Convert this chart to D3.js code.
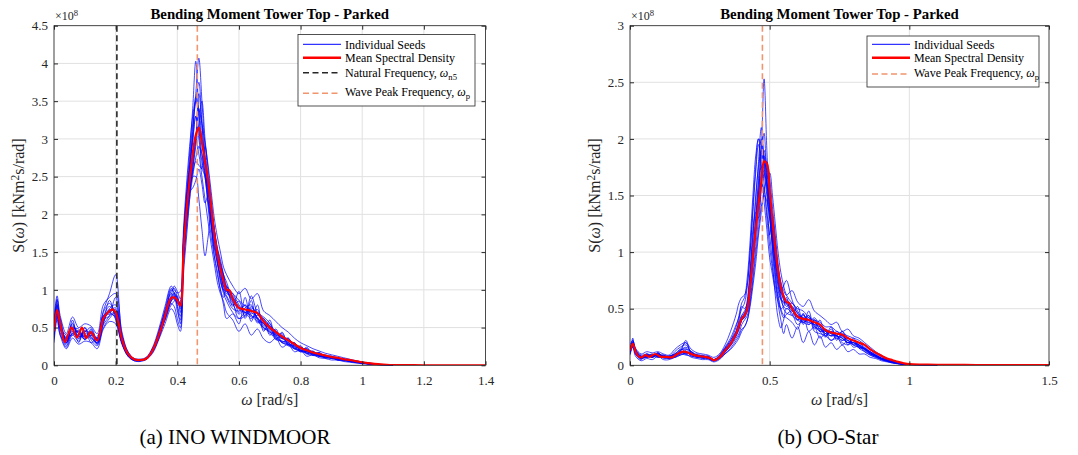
<!DOCTYPE html>
<html><head><meta charset="utf-8">
<script src="https://cdn.jsdelivr.net/npm/d3@7"></script>
<style>
html,body{margin:0;padding:0;background:#fff;}
svg{display:block;font-family:'Liberation Serif','Times New Roman',Times,serif;}
</style></head><body>
<svg id="fig" width="1078" height="455" font-family="Liberation Serif, Times New Roman, Times, serif"></svg>
<script>
// ---------- (a) INO WINDMOOR ----------
// frequency grid of the individual seed spectra [rad/s]
const seedOmegaA = [0,.01,.02,.04,.06,.08,.10,.12,.14,.16,.18,.20,
  .22,.24,.26,.28,.30,.32,.34,.36,.38,.39,.40,.41,
  .42,.43,.44,.45,.46,.47,.48,.49,.50,.51,.52,.53,.54,.55,.56,
  .58,.60,.62,.64,.66,.68,.70,.72,.74,.76,.78,.80,.82,.84,.86,.88,.90,.92,.94,.96,.98,1.00,1.02,1.04,1.06,1.08,1.10];
// individual seed spectra, S(omega) in 1e8 kNm^2 s/rad
const seedsA = [
  [.38,.86,.60,.28,.55,.35,.45,.38,.30,.70,.82,.65, .30,.12,.06,.06,.10,.18,.45,.72,.98,1.02,.90,.75,
   1.6,2.2,2.6,3.1,3.6,4.07,3.5,2.8,2.2,1.85,1.6,1.35,1.2,1.05,.95,
   .92,.70,.80,.68,.74,.52,.55,.40,.42,.30,.30,.20,.22,.15,.17,.12,.12,.09,.09,.06,.06,.04,.03,.02,.01,.006,.004],
  [.52,.70,.48,.36,.42,.45,.34,.48,.28,.55,.75,.80, .40,.18,.09,.08,.08,.22,.38,.60,.80,.85,.92,.70,
   1.7,2.3,2.8,3.4,4.03,3.3,2.6,2.9,2.4,1.9,1.55,1.5,1.3,1.0,.92,
   .80,.85,.65,.78,.62,.55,.50,.45,.35,.36,.25,.22,.18,.19,.13,.12,.11,.08,.08,.06,.05,.035,.025,.015,.008,.005,.003],
  [.40,.68,.62,.30,.50,.44,.38,.40,.36,.60,.65,.72, .38,.16,.07,.06,.10,.20,.42,.68,.95,.92,.80,.65,
   1.4,1.9,2.3,2.6,3.0,3.6,3.2,2.7,2.45,2.1,1.8,1.5,1.3,1.2,1.05,
   .95,.80,.70,.62,.70,.60,.52,.46,.36,.34,.28,.24,.20,.16,.16,.12,.10,.10,.07,.07,.05,.04,.03,.018,.01,.006,.003],
  [.48,.80,.50,.38,.45,.36,.46,.42,.35,.65,.70,.62, .32,.14,.08,.07,.08,.18,.36,.62,.85,.88,.82,.85,
   1.6,2.1,2.35,2.5,2.5,2.2,1.8,1.45,1.7,2.0,1.75,1.4,1.1,.98,.90,
   .75,.72,.80,.66,.62,.55,.46,.40,.38,.28,.26,.24,.16,.16,.14,.10,.10,.08,.07,.05,.05,.03,.02,.012,.007,.004,.003],
  [.42,.74,.56,.34,.52,.42,.35,.46,.32,.58,.72,.76, .36,.15,.08,.07,.09,.20,.40,.66,.88,.92,.85,.80,
   1.4,1.9,2.3,2.6,2.9,3.2,3.5,3.0,2.6,2.2,1.8,1.5,1.3,1.15,1.02,
   .90,.78,.70,.76,.68,.58,.48,.42,.36,.30,.24,.18,.18,.15,.12,.12,.09,.09,.07,.05,.045,.03,.02,.012,.007,.004,.002],
  [.50,.66,.50,.26,.44,.38,.42,.38,.28,.50,.62,.70, .35,.13,.07,.07,.08,.20,.42,.60,.82,.78,.62,.50,
   1.3,1.8,2.2,2.5,2.75,2.9,2.8,2.55,2.35,2.1,1.8,1.55,1.4,1.2,1.0,
   .82,.68,.76,.80,.60,.50,.45,.34,.32,.30,.22,.20,.16,.14,.12,.10,.10,.07,.07,.05,.04,.03,.02,.012,.006,.004,.002],
  [.55,.88,.58,.32,.48,.48,.36,.44,.36,.72,.95,1.2, .42,.16,.08,.06,.10,.22,.44,.70,.92,1.05,.98,.88,
   1.7,2.2,2.6,2.95,3.3,3.1,2.8,2.5,2.15,1.85,1.55,1.35,1.15,.95,.85,
   .70,.62,.70,.74,.62,.48,.48,.36,.32,.28,.22,.18,.18,.16,.14,.12,.11,.09,.08,.06,.05,.03,.02,.012,.008,.005,.003],
  [.36,.64,.52,.30,.42,.40,.44,.50,.34,.62,.68,.64, .30,.13,.07,.07,.09,.18,.36,.64,.90,.95,.88,.82,
   1.5,2.0,2.4,2.7,3.0,3.4,3.0,2.75,2.45,2.05,1.7,1.4,1.15,1.0,.98,
   .95,.86,.78,.64,.66,.62,.52,.42,.40,.32,.28,.24,.20,.18,.15,.13,.12,.10,.08,.06,.05,.04,.03,.02,.01,.006,.003],
  [.46,.62,.50,.36,.56,.38,.40,.36,.30,.60,.74,.68, .36,.15,.08,.07,.09,.20,.40,.64,.85,.90,.84,.78,
   1.45,1.95,2.3,2.55,2.7,2.65,2.6,2.5,2.3,2.05,1.8,1.55,1.35,1.15,1.0,
   .85,.74,.70,.66,.58,.56,.42,.38,.30,.26,.22,.20,.15,.13,.12,.10,.09,.07,.06,.05,.035,.025,.018,.01,.006,.004,.002],
  [.44,.78,.54,.34,.50,.42,.38,.42,.34,.66,.70,.74, .34,.15,.08,.07,.09,.20,.40,.64,.90,.88,.86,.82,
   1.6,2.15,2.6,3.05,3.55,3.3,2.95,2.7,2.4,2.05,1.7,1.45,1.25,1.05,.98,
   .88,.76,.74,.70,.64,.50,.44,.40,.30,.28,.24,.20,.18,.15,.13,.11,.10,.08,.07,.055,.04,.03,.02,.012,.007,.004,.002],
  [.30,.60,.40,.22,.36,.28,.32,.30,.22,.48,.58,.55, .28,.12,.06,.05,.08,.16,.34,.55,.75,.70,.55,.45,
   1.2,1.7,2.2,2.7,3.0,2.8,2.5,2.2,1.9,1.6,1.35,1.1,.95,.85,.70,
   .60,.45,.55,.40,.48,.35,.30,.36,.24,.28,.18,.20,.12,.14,.10,.09,.07,.07,.05,.04,.03,.02,.015,.01,.005,.003,.002],
  [.60,.92,.66,.42,.64,.50,.55,.52,.42,.80,.90,.95, .45,.18,.09,.08,.11,.24,.48,.78,1.05,1.0,.96,.98,
   1.8,2.4,2.9,3.3,3.5,3.4,3.2,2.95,2.65,2.3,1.95,1.7,1.5,1.3,1.2,
   1.05,.95,1.02,.88,.95,.72,.66,.58,.50,.44,.36,.30,.26,.22,.19,.16,.14,.12,.10,.08,.06,.045,.03,.02,.012,.008,.005],
  [.34,.72,.44,.24,.40,.32,.50,.34,.26,.56,.86,.60, .30,.13,.07,.06,.09,.19,.38,.62,1.0,.96,.78,.55,
   1.4,2.0,2.3,2.35,2.45,2.6,2.4,2.15,2.25,1.9,1.45,1.2,1.0,.80,.62,
   .68,.55,.90,.58,.80,.45,.60,.34,.44,.26,.30,.18,.24,.13,.17,.10,.12,.07,.08,.05,.05,.03,.02,.012,.007,.004,.002],
  [.42,.70,.40,.30,.60,.30,.50,.30,.38,.54,.66,.90, .38,.15,.07,.07,.09,.22,.42,.74,1.02,.96,.72,.60,
   1.5,2.1,2.6,3.0,3.3,3.0,2.7,2.5,2.1,1.7,1.45,1.25,1.0,.90,1.05,
   .78,.98,.62,.86,.56,.62,.40,.48,.30,.36,.22,.26,.16,.18,.12,.14,.09,.10,.06,.07,.04,.035,.02,.012,.007,.004,.002],
  [.46,.82,.52,.40,.40,.46,.34,.40,.30,.64,.78,.66, .32,.14,.08,.07,.08,.20,.40,.62,.86,.96,.90,.80,
   1.6,2.2,2.7,3.2,3.5,3.75,3.2,2.6,2.2,1.95,1.65,1.45,1.35,1.2,1.1,
   .85,.62,.66,.92,.70,.64,.56,.38,.36,.34,.26,.22,.22,.17,.14,.12,.11,.08,.08,.06,.045,.03,.02,.012,.007,.004,.002]
];
// mean spectral density
const meanOmegaA = [0,.01,.02,.035,.045,.057,.075,.091,.105,.119,.14,.16,.175,.19,.20,.21,.22,.24,.26,.28,
  .30,.32,.34,.36,.37,.38,.39,.40,.41,.42,.43,.44,.45,.46,.47,.48,.49,.50,.51,.52,.53,.54,.55,.56,.57,
  .58,.60,.62,.64,.66,.68,.70,.72,.74,.76,.78,.80,.82,.84,.86,.88,.90,.92,.94,.96,.98,1.00,1.02,1.04,1.06,
  1.08,1.10,1.15,1.20,1.30,1.40];
const meanA = [.45,.73,.55,.31,.40,.50,.37,.50,.36,.44,.33,.62,.70,.74,.70,.55,.35,.15,.08,.07,
  .09,.20,.40,.65,.80,.89,.90,.86,.79,1.5,2.05,2.45,2.8,3.05,3.15,2.95,2.7,2.45,2.1,1.75,1.48,1.28,1.12,1.0,.99,
  .88,.76,.74,.72,.69,.58,.50,.44,.38,.33,.28,.23,.20,.17,.15,.13,.11,.10,.08,.07,.055,.04,.03,.02,.012,
  .007,.004,.002,.001,.0005,.0005];
const natFreqA = 0.204;   // omega_n5
const peakFreqA = 0.465;  // omega_p
const xTicksA = [0,0.2,0.4,0.6,0.8,1,1.2,1.4];
const yTicksA = [0,0.5,1,1.5,2,2.5,3,3.5,4,4.5];

// ---------- (b) OO-Star ----------
const seedOmegaB = seedOmegaA.slice();
const seedsB = [
  [.10,.24,.10,.05,.10,.07,.11,.06,.08,.09,.13,.15, .09,.07,.08,.06,.04,.08,.15,.22,.30,.36,.42,.45,
   .52,.75,1.0,1.3,1.6,1.9,2.53,1.9,1.4,1.2,.95,.78,.62,.50,.46,
   .44,.40,.45,.36,.40,.30,.25,.32,.26,.22,.25,.18,.20,.14,.10,.08,.05,.04,.025,.015,.008,.006,.005,.004,.004,.003,.003],
  [.16,.18,.13,.08,.07,.09,.08,.09,.06,.08,.12,.10, .12,.08,.07,.08,.05,.06,.11,.18,.26,.32,.40,.42,
   .55,.80,1.1,1.45,1.8,2.1,1.8,1.55,1.35,1.1,.92,.75,.60,.55,.58,
   .52,.46,.38,.44,.34,.32,.30,.26,.30,.24,.20,.22,.16,.15,.12,.09,.06,.04,.03,.02,.01,.007,.005,.004,.003,.003,.003],
  [.12,.22,.14,.06,.09,.08,.10,.07,.08,.10,.14,.13, .08,.09,.06,.07,.04,.07,.14,.20,.30,.38,.44,.46,
   .50,.68,.92,1.2,1.5,1.85,2.05,1.6,1.15,1.3,1.1,.85,.66,.58,.52,
   .55,.48,.40,.38,.42,.34,.26,.30,.28,.26,.22,.18,.18,.15,.10,.08,.06,.05,.03,.02,.012,.008,.006,.004,.003,.003,.002],
  [.14,.16,.11,.07,.08,.10,.07,.08,.07,.12,.16,.18, .11,.08,.09,.06,.05,.09,.16,.24,.36,.42,.50,.55,
   .70,1.0,1.35,1.7,1.95,1.8,1.6,1.3,1.05,.85,.70,.60,.48,.42,.45,
   .48,.40,.44,.40,.35,.30,.32,.28,.24,.26,.20,.20,.17,.13,.10,.08,.055,.04,.025,.015,.009,.006,.005,.004,.003,.003,.002],
  [.11,.20,.10,.06,.09,.07,.10,.08,.07,.08,.10,.12, .10,.09,.07,.07,.05,.07,.12,.17,.24,.28,.36,.40,
   .44,.58,.80,1.05,1.3,1.55,1.7,1.8,1.65,1.4,1.15,.90,.72,.62,.55,
   .50,.44,.42,.38,.36,.34,.30,.28,.26,.30,.24,.22,.20,.16,.12,.09,.065,.045,.03,.02,.01,.007,.005,.004,.003,.003,.002],
  [.15,.19,.12,.08,.07,.09,.08,.07,.08,.10,.11,.14, .12,.07,.08,.08,.04,.06,.12,.18,.28,.34,.40,.44,
   .48,.66,.90,1.15,1.4,1.6,1.55,1.35,1.15,.90,.62,.42,.33,.40,.50,
   .46,.36,.40,.44,.30,.28,.26,.22,.24,.20,.18,.20,.15,.12,.09,.07,.05,.035,.02,.015,.008,.006,.004,.003,.003,.002,.002],
  [.13,.17,.12,.07,.08,.08,.09,.08,.07,.09,.12,.22, .10,.08,.07,.06,.05,.08,.14,.20,.28,.34,.42,.46,
   .58,.85,1.15,1.5,1.75,1.9,1.7,1.5,1.3,1.1,.90,.72,.64,.70,.75,
   .58,.46,.42,.40,.38,.32,.28,.30,.26,.24,.20,.22,.18,.14,.11,.085,.06,.045,.03,.018,.01,.007,.005,.004,.003,.003,.002],
  [.12,.21,.11,.06,.10,.08,.11,.07,.06,.08,.11,.12, .09,.10,.08,.06,.04,.07,.13,.19,.26,.32,.40,.42,
   .48,.66,.92,1.2,1.5,1.75,1.7,1.6,1.45,1.15,.88,.70,.58,.52,.50,
   .52,.42,.38,.36,.40,.34,.28,.26,.26,.22,.24,.18,.16,.15,.11,.08,.06,.04,.03,.018,.01,.007,.005,.004,.003,.003,.002],
  [.14,.20,.13,.08,.09,.07,.10,.08,.08,.07,.09,.11, .10,.08,.08,.07,.05,.07,.12,.18,.28,.34,.44,.48,
   .52,.72,.98,1.25,1.5,1.7,1.85,1.7,1.45,1.2,.98,.80,.66,.58,.54,
   .48,.44,.40,.42,.36,.36,.30,.26,.28,.26,.22,.20,.18,.14,.12,.09,.065,.05,.03,.02,.012,.008,.006,.004,.003,.003,.002],
  [.13,.18,.12,.07,.08,.09,.08,.08,.07,.08,.12,.10, .11,.09,.07,.08,.05,.07,.13,.19,.27,.33,.40,.44,
   .50,.70,.96,1.3,1.65,2.0,1.85,1.65,1.35,1.05,.82,.66,.58,.56,.55,
   .50,.40,.38,.40,.36,.30,.30,.28,.26,.24,.20,.20,.18,.14,.11,.085,.06,.045,.03,.018,.01,.007,.005,.004,.003,.003,.002],
  [.09,.16,.08,.04,.06,.05,.08,.05,.05,.07,.09,.10, .07,.06,.05,.05,.03,.05,.10,.15,.22,.26,.32,.34,
   .40,.55,.75,.98,1.2,1.4,1.5,1.45,1.3,1.05,.80,.55,.40,.28,.36,
   .24,.34,.20,.30,.18,.26,.16,.20,.14,.18,.12,.14,.10,.10,.07,.06,.04,.03,.02,.012,.007,.005,.004,.003,.003,.002,.002],
  [.18,.22,.15,.10,.12,.11,.12,.10,.09,.14,.18,.20, .14,.11,.10,.09,.07,.10,.18,.30,.45,.55,.60,.62,
   .72,1.0,1.4,1.75,2.0,1.95,1.8,1.6,1.4,1.2,1.0,.85,.74,.66,.62,
   .66,.56,.52,.58,.48,.44,.40,.36,.38,.30,.32,.26,.24,.20,.16,.12,.09,.06,.04,.025,.015,.01,.006,.005,.004,.003,.003],
  [.12,.20,.13,.07,.09,.07,.11,.07,.07,.10,.14,.20, .10,.09,.08,.06,.05,.07,.14,.20,.30,.40,.52,.50,
   .55,.80,1.2,1.35,1.3,1.6,1.9,1.75,1.55,1.0,.75,.62,.50,.44,.42,
   .38,.32,.46,.30,.34,.24,.28,.22,.26,.18,.22,.16,.17,.12,.09,.07,.05,.035,.025,.015,.008,.006,.005,.004,.003,.003,.002],
  [.10,.17,.10,.06,.07,.08,.07,.07,.06,.07,.10,.09, .08,.07,.06,.06,.04,.06,.10,.14,.20,.24,.30,.34,
   .40,.52,.70,.90,1.15,1.35,1.55,1.65,1.7,1.5,1.25,1.0,.82,.70,.62,
   .55,.50,.48,.42,.40,.38,.34,.34,.30,.28,.26,.24,.22,.18,.14,.10,.075,.05,.035,.02,.012,.008,.006,.004,.003,.003,.002],
  [.15,.20,.14,.09,.10,.09,.09,.09,.08,.09,.13,.16, .12,.09,.08,.07,.05,.08,.15,.22,.34,.44,.55,.60,
   .78,1.1,1.5,1.85,2.0,1.75,1.45,1.2,.95,.80,.66,.56,.50,.52,.60,
   .44,.52,.36,.48,.32,.40,.26,.34,.22,.30,.18,.24,.15,.15,.11,.08,.06,.04,.028,.018,.01,.007,.005,.004,.003,.003,.002]
];
const meanOmegaB = [0,.01,.02,.03,.04,.055,.07,.09,.11,.13,.15,.17,.19,.21,.23,.25,.27,.29,.30,.32,
  .34,.36,.38,.40,.41,.42,.43,.44,.45,.46,.47,.48,.49,.50,.51,.52,.53,.54,.55,.56,.57,.58,
  .60,.62,.64,.66,.68,.70,.72,.74,.76,.78,.80,.82,.84,.86,.88,.90,.92,.94,.96,.98,1.00,1.05,1.10,
  1.20,1.30,1.40,1.50];
const meanB = [.13,.19,.12,.08,.07,.09,.075,.10,.075,.075,.07,.10,.12,.11,.09,.08,.075,.06,.045,.07,
  .13,.19,.28,.41,.44,.50,.70,.95,1.2,1.42,1.62,1.80,1.78,1.55,1.28,1.04,.84,.69,.61,.56,.55,.50,
  .43,.41,.40,.38,.36,.31,.29,.28,.27,.24,.22,.20,.18,.14,.11,.085,.06,.045,.03,.018,.01,.006,.004,
  .003,.002,.002,.002];
const peakFreqB = 0.474;  // omega_p
const xTicksB = [0,0.5,1,1.5];
const yTicksB = [0,0.5,1,1.5,2,2.5,3];

const chartTitle = "Bending Moment Tower Top - Parked";
const captions = ["(a) INO WINDMOOR", "(b) OO-Star"];

// ---------- drawing ----------
const FONT = "'Liberation Serif','Times New Roman',Times,serif";
const svg = d3.select("#fig");
const AX = "#262626", SEED = "#0000ff", MEAN = "#ff0000", NAT = "#262626", WAVE = "#f0956e";
const TOP = 25.7, BOTTOM = 365.3;

function richText(sel, parts, size) {
  sel.attr("font-family", FONT);
  parts.forEach(p => {
    const t = sel.append("tspan").text(p.t);
    if (p.it) t.attr("font-style", "italic");
    if (p.sub) t.attr("font-size", size * 0.72).attr("baseline-shift", "-28%");
    if (p.sup) t.attr("font-size", size * 0.72).attr("baseline-shift", "40%");
  });
}

function drawPanel(p, idx) {
  const x = d3.scaleLinear().domain(p.xDomain).range([p.left, p.right]);
  const y = d3.scaleLinear().domain(p.yDomain).range([BOTTOM, TOP]);
  const g = svg.append("g");
  const clipId = "clip" + idx;
  g.append("clipPath").attr("id", clipId).append("rect")
    .attr("x", p.left).attr("y", TOP).attr("width", p.right - p.left).attr("height", BOTTOM - TOP);

  // grid
  g.append("g").selectAll("line").data(p.xTicks).join("line")
    .attr("x1", d => x(d)).attr("x2", d => x(d)).attr("y1", TOP).attr("y2", BOTTOM)
    .attr("stroke", "#e1e1e1").attr("stroke-width", 1);
  g.append("g").selectAll("line").data(p.yTicks).join("line")
    .attr("y1", d => y(d)).attr("y2", d => y(d)).attr("x1", p.left).attr("x2", p.right)
    .attr("stroke", "#e1e1e1").attr("stroke-width", 1);

  const plot = g.append("g").attr("clip-path", `url(#${clipId})`);
  const seedLine = d3.line().x((d, i) => x(p.seedOmega[i])).y(d => y(d)).curve(d3.curveCatmullRom.alpha(0.5));
  plot.append("g").selectAll("path").data(p.seeds).join("path")
    .attr("d", seedLine).attr("fill", "none").attr("stroke", SEED)
    .attr("stroke-width", 1).attr("stroke-opacity", 0.72);

  // reference frequencies
  p.vlines.forEach(v => {
    plot.append("line").attr("x1", x(v.w)).attr("x2", x(v.w)).attr("y1", TOP).attr("y2", BOTTOM)
      .attr("stroke", v.color).attr("stroke-width", 1.6).attr("stroke-dasharray", "6,3.5");
  });

  const meanLine = d3.line().x((d, i) => x(p.meanOmega[i])).y(d => y(d)).curve(d3.curveCatmullRom.alpha(0.5));
  plot.append("path").datum(p.mean).attr("d", meanLine).attr("fill", "none")
    .attr("stroke", MEAN).attr("stroke-width", 2.2).attr("stroke-linejoin", "round");

  // axes with inward ticks on all four sides
  const fmt = d3.format("~g");
  const styleAxis = a => {
    a.attr("font-family", FONT);
    a.select(".domain").remove();
    a.selectAll("line").attr("stroke", AX);
    a.selectAll("text").attr("fill", AX).attr("font-size", 13).attr("font-family", FONT);
  };
  g.append("g").attr("transform", `translate(0,${BOTTOM})`)
    .call(d3.axisBottom(x).tickValues(p.xTicks).tickFormat(fmt).tickSize(-4).tickPadding(10)).call(styleAxis);
  g.append("g").attr("transform", `translate(0,${TOP})`)
    .call(d3.axisTop(x).tickValues(p.xTicks).tickFormat("").tickSize(-4)).call(styleAxis);
  g.append("g").attr("transform", `translate(${p.left},0)`)
    .call(d3.axisLeft(y).tickValues(p.yTicks).tickFormat(fmt).tickSize(-4).tickPadding(6)).call(styleAxis);
  g.append("g").attr("transform", `translate(${p.right},0)`)
    .call(d3.axisRight(y).tickValues(p.yTicks).tickFormat("").tickSize(-4)).call(styleAxis);
  g.append("rect").attr("x", p.left).attr("y", TOP).attr("width", p.right - p.left).attr("height", BOTTOM - TOP)
    .attr("fill", "none").attr("stroke", AX).attr("stroke-width", 0.8);

  // exponent
  const ex = g.append("text").attr("x", p.left + 1).attr("y", 20).attr("font-size", 12).attr("fill", AX);
  richText(ex, [{t: "×10"}, {t: "8", sup: true}], 12);

  // title
  g.append("text").attr("x", (p.left + p.right) / 2).attr("y", 19).attr("text-anchor", "middle")
    .attr("font-family", FONT).attr("font-size", 14.8).attr("font-weight", "bold").attr("fill", "#000").text(chartTitle);

  // axis labels
  const xl = g.append("text").attr("x", (p.left + p.right) / 2).attr("y", 405)
    .attr("text-anchor", "middle").attr("font-size", 16).attr("fill", AX);
  richText(xl, [{t: "ω", it: true}, {t: " [rad/s]"}], 16);
  const yl = g.append("text").attr("transform", `translate(${p.left - 30},${(TOP + BOTTOM) / 2}) rotate(-90)`)
    .attr("text-anchor", "middle").attr("font-size", 16).attr("fill", AX);
  richText(yl, [{t: "S("}, {t: "ω", it: true}, {t: ") [kNm"}, {t: "2", sup: true}, {t: "s/rad]"}], 16);

  // legend
  const L = p.legend;
  const lg = g.append("g");
  lg.append("rect").attr("x", L.x).attr("y", L.y).attr("width", L.w).attr("height", L.h)
    .attr("fill", "#fff").attr("stroke", AX).attr("stroke-width", 0.8);
  L.rows.forEach(r => {
    lg.append("line").attr("x1", L.x + 5).attr("x2", L.x + 43).attr("y1", r.y).attr("y2", r.y)
      .attr("stroke", r.color).attr("stroke-width", r.width)
      .attr("stroke-dasharray", r.dash ? "6,3.5" : null);
    const t = lg.append("text").attr("x", L.x + 47).attr("y", r.ty).attr("font-size", 12).attr("fill", "#000");
    richText(t, r.label, 12);
  });

  // caption
  svg.append("text").attr("x", p.capX).attr("y", 444).attr("text-anchor", "middle")
    .attr("font-family", FONT).attr("font-size", 21).attr("fill", "#000").text(captions[idx]);
}

const seedRow = {label: [{t: "Individual Seeds"}], color: SEED, width: 1};
const meanRow = {label: [{t: "Mean Spectral Density"}], color: MEAN, width: 2.5};

drawPanel({
  xDomain: [0, 1.4], yDomain: [0, 4.5], left: 54, right: 485.5,
  xTicks: xTicksA, yTicks: yTicksA,
  seedOmega: seedOmegaA, seeds: seedsA, meanOmega: meanOmegaA, mean: meanA,
  vlines: [{w: natFreqA, color: NAT}, {w: peakFreqA, color: WAVE}],
  legend: {x: 298, y: 34.5, w: 177, h: 71.5, rows: [
    Object.assign({y: 44.3, ty: 48.5}, seedRow),
    Object.assign({y: 57.7, ty: 62}, meanRow),
    {y: 72.7, ty: 76.5, color: NAT, width: 1.6, dash: true,
     label: [{t: "Natural Frequency, "}, {t: "ω", it: true}, {t: "n5", sub: true}]},
    {y: 93.3, ty: 95.5, color: WAVE, width: 1.6, dash: true,
     label: [{t: "Wave Peak Frequency, "}, {t: "ω", it: true}, {t: "p", sub: true}]}
  ]},
  capX: 235
}, 0);

drawPanel({
  xDomain: [0, 1.5], yDomain: [0, 3], left: 630, right: 1049,
  xTicks: xTicksB, yTicks: yTicksB,
  seedOmega: seedOmegaB, seeds: seedsB, meanOmega: meanOmegaB, mean: meanB,
  vlines: [{w: peakFreqB, color: WAVE}],
  legend: {x: 867, y: 36, w: 172, h: 51, rows: [
    Object.assign({y: 44.3, ty: 48.5}, seedRow),
    Object.assign({y: 57.7, ty: 62}, meanRow),
    {y: 74, ty: 76.5, color: WAVE, width: 1.6, dash: true,
     label: [{t: "Wave Peak Frequency, "}, {t: "ω", it: true}, {t: "p", sub: true}]}
  ]},
  capX: 828
}, 1);
</script>
</body></html>
